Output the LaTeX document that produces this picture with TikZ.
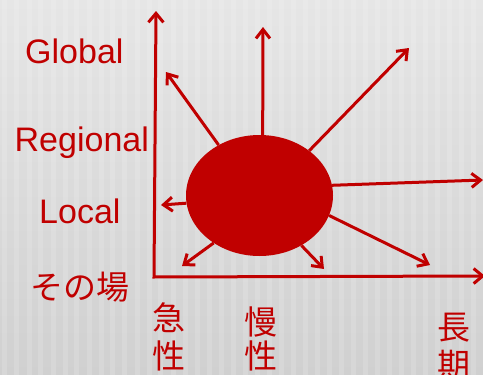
\documentclass[tikz,border=0pt]{standalone}
\usepackage{fontspec}
\setmainfont{Liberation Sans}
\newfontfamily\jpfont{Noto Sans CJK JP}
\usetikzlibrary{shapes.geometric,arrows.meta}
\definecolor{dred}{HTML}{C00000}
\definecolor{bgtop}{HTML}{E6E6E6}
\definecolor{bgbot}{HTML}{D0D0D0}
\tikzset{
  axisline/.style={draw=dred,line width=3pt,line join=miter,
    {Straight Barb[length=9pt,width=15pt]}-{Straight Barb[length=9pt,width=15pt]}},
  ray/.style={draw=dred,line width=3pt,-{Straight Barb[length=9pt,width=14pt]}},
  blob/.style={ellipse,fill=dred,draw=none,minimum width=147pt,minimum height=121pt,inner sep=0pt},
  lab/.style={text=dred,inner sep=0pt,font=\fontsize{34}{40}\selectfont},
  jp/.style={text=dred,inner sep=0pt,font=\jpfont\fontsize{33}{40}\selectfont},
}
\begin{document}
\begin{tikzpicture}[x=1pt,y=-1pt]
\useasboundingbox (0,0) rectangle (483,375);
% background
\shade[top color=bgtop,bottom color=bgbot] (0,0) rectangle (483,375);
\foreach \x in {2,14,27,38,51,63,74,87,99,110,122,135,147,158,171,183,195,207,219,231,243,255,267,279,291,303,315,327,339,351,363,375,387,399,411,423,435,447,459,471}
  \fill[white,opacity=0.15] (\x,0) rectangle ++(5,375);
% axes
\coordinate (O) at (154,277);
\coordinate (ytop) at (156,11);
\coordinate (xend) at (485,276);
\draw[axisline] (ytop) -- (O) -- (xend);
% central blob
\node[blob] (e) at (259.5,195.5) {};
% ray ends
\coordinate (t1) at (263,27);
\coordinate (t2) at (166,72);
\coordinate (t3) at (409,48);
\coordinate (t4) at (483,180);
\coordinate (t5) at (161,205);
\coordinate (t6) at (182,266);
\coordinate (t7) at (324,269);
\coordinate (t8) at (430,265);
\draw[ray] (e.87) -- (t1);
\draw[ray] (e.129) -- (t2);
\draw[ray] (e.42) -- (t3);
\draw[ray] (e.8) -- (t4);
\draw[ray] (e.186) -- (t5);
\draw[ray] (e.226) -- (t6);
\draw[ray] (e.310) -- (t7);
\draw[ray] (e.344) -- (t8);
% labels
\node[lab,anchor=base west] (gl) at (25,63) {Global};
\node[lab,anchor=base west] (rg) at (14.5,151) {Regional};
\node[lab,anchor=base west] (lc) at (39,223) {Local};
\node[jp,anchor=base west] (sb) at (30.5,299) {その場};
\node[jp,anchor=base] (k1) at (169,330) {急};
\node[jp,anchor=base] (k2) at (169,368) {性};
\node[jp,anchor=base] (m1) at (261,334) {慢};
\node[jp,anchor=base] (m2) at (261,368) {性};
\node[jp,anchor=base] (c1) at (453.5,339) {長};
\node[jp,anchor=base] (c2) at (453.5,377) {期};
\end{tikzpicture}
\end{document}
